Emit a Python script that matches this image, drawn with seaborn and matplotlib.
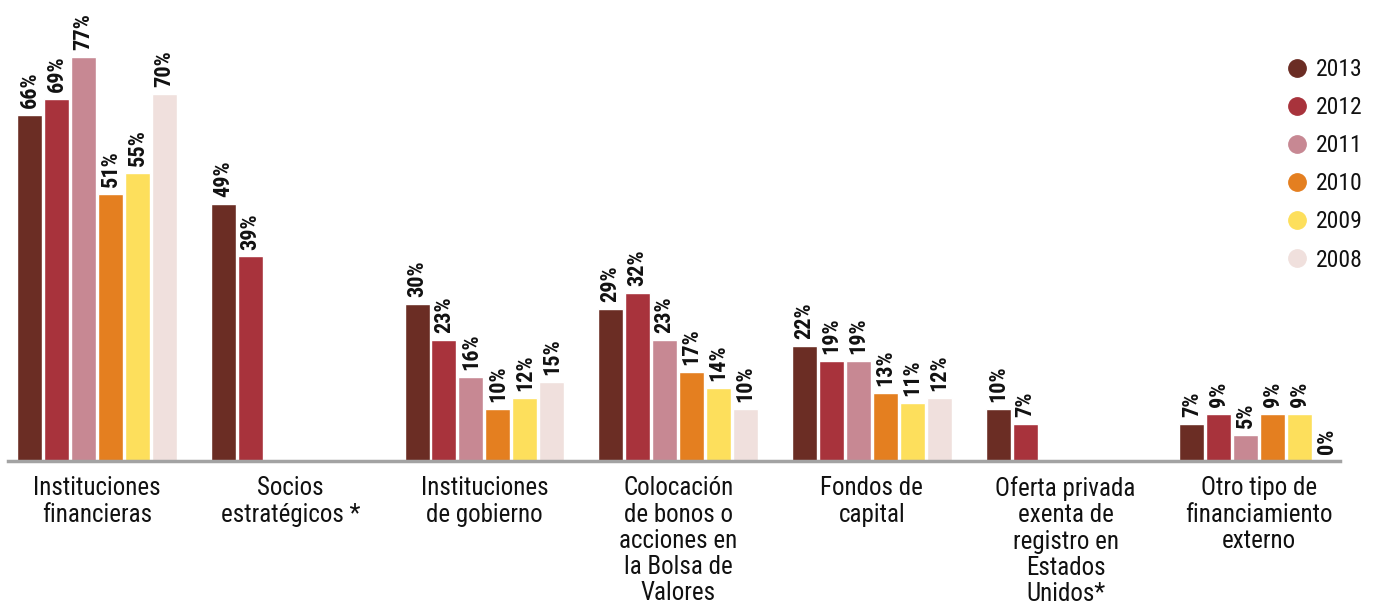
import numpy as np
import pandas as pd
import seaborn as sns
import matplotlib
matplotlib.use("Agg")
import matplotlib.pyplot as plt
from matplotlib import font_manager
from matplotlib.lines import Line2D

categories = [
    "Instituciones\nfinancieras",
    "Socios\nestratégicos *",
    "Instituciones\nde gobierno",
    "Colocación\nde bonos o\nacciones en\nla Bolsa de\nValores",
    "Fondos de\ncapital",
    "Oferta privada\nexenta de\nregistro en\nEstados\nUnidos*",
    "Otro tipo de\nfinanciamiento\nexterno",
]
years = ["2013", "2012", "2011", "2010", "2009", "2008"]
v2013 = [66, 49, 30, 29, 22, 10, 7]
v2012 = [69, 39, 23, 32, 19, 7, 9]
v2011 = [77, None, 16, 23, 19, None, 5]
v2010 = [51, None, 10, 17, 13, None, 9]
v2009 = [55, None, 12, 14, 11, None, 9]
v2008 = [70, None, 15, 10, 12, None, 0]
colors = ["#6b2d24", "#a8333c", "#c78893", "#e47f20", "#fddf5c", "#f0e0dd"]

sns.set_theme(style="white")
names = {f.name for f in font_manager.fontManager.ttflist}
family = next((n for n in ["Roboto Condensed", "Barlow Condensed", "Archivo Narrow"] if n in names),
              "Liberation Sans")
plt.rcParams["font.family"] = [family, "DejaVu Sans"]

rows = []
for year, vals in zip(years, [v2013, v2012, v2011, v2010, v2009, v2008]):
    for cat, v in zip(categories, vals):
        if v is not None:
            rows.append({"categoria": cat, "año": year, "valor": v})
df = pd.DataFrame(rows)

W, H = 1377, 605
fig = plt.figure(figsize=(W / 100, H / 100), dpi=100)
ax = fig.add_axes([8 / W, 1 - 461 / H, (1340 - 8) / W, 461 / H])

sns.barplot(
    data=df, x="categoria", y="valor", hue="año",
    order=categories, hue_order=years, palette=colors,
    width=0.836, gap=0.074, saturation=1, ax=ax, legend=False,
    err_kws={"linewidth": 0},
)

# Rotated percentage labels above every bar
for cont in ax.containers:
    ax.bar_label(
        cont, labels=[f"{v:.0f}%" for v in cont.datavalues],
        rotation=90, padding=5, fontsize=16, fontweight="bold", color="#111111",
    )

ax.set_xlim(-0.46, 6.417)
ax.set_ylim(0, 87.9)
ax.set_xlabel("")
ax.set_ylabel("")
ax.set_yticks([])
for s in ["top", "right", "left"]:
    ax.spines[s].set_visible(False)
ax.spines["bottom"].set_color("#a3a3a3")
ax.spines["bottom"].set_linewidth(2.5)
ax.tick_params(axis="x", length=0, pad=11, labelsize=18, labelcolor="#111111")
for t in ax.get_xticklabels():
    t.set_linespacing(1.12)

handles = [Line2D([], [], marker="o", linestyle="", markersize=12.5,
                  markerfacecolor=c, markeredgecolor=c) for c in colors]
leg = fig.legend(
    handles, years, loc="upper left", bbox_to_anchor=(1286 / W, 1 - 58 / H),
    frameon=False, fontsize=17, labelspacing=0.64, handletextpad=0.3,
    handlelength=0.95, borderpad=0, borderaxespad=0,
)
for t in leg.get_texts():
    t.set_color("#111111")

fig.savefig("out.png", dpi=100)
